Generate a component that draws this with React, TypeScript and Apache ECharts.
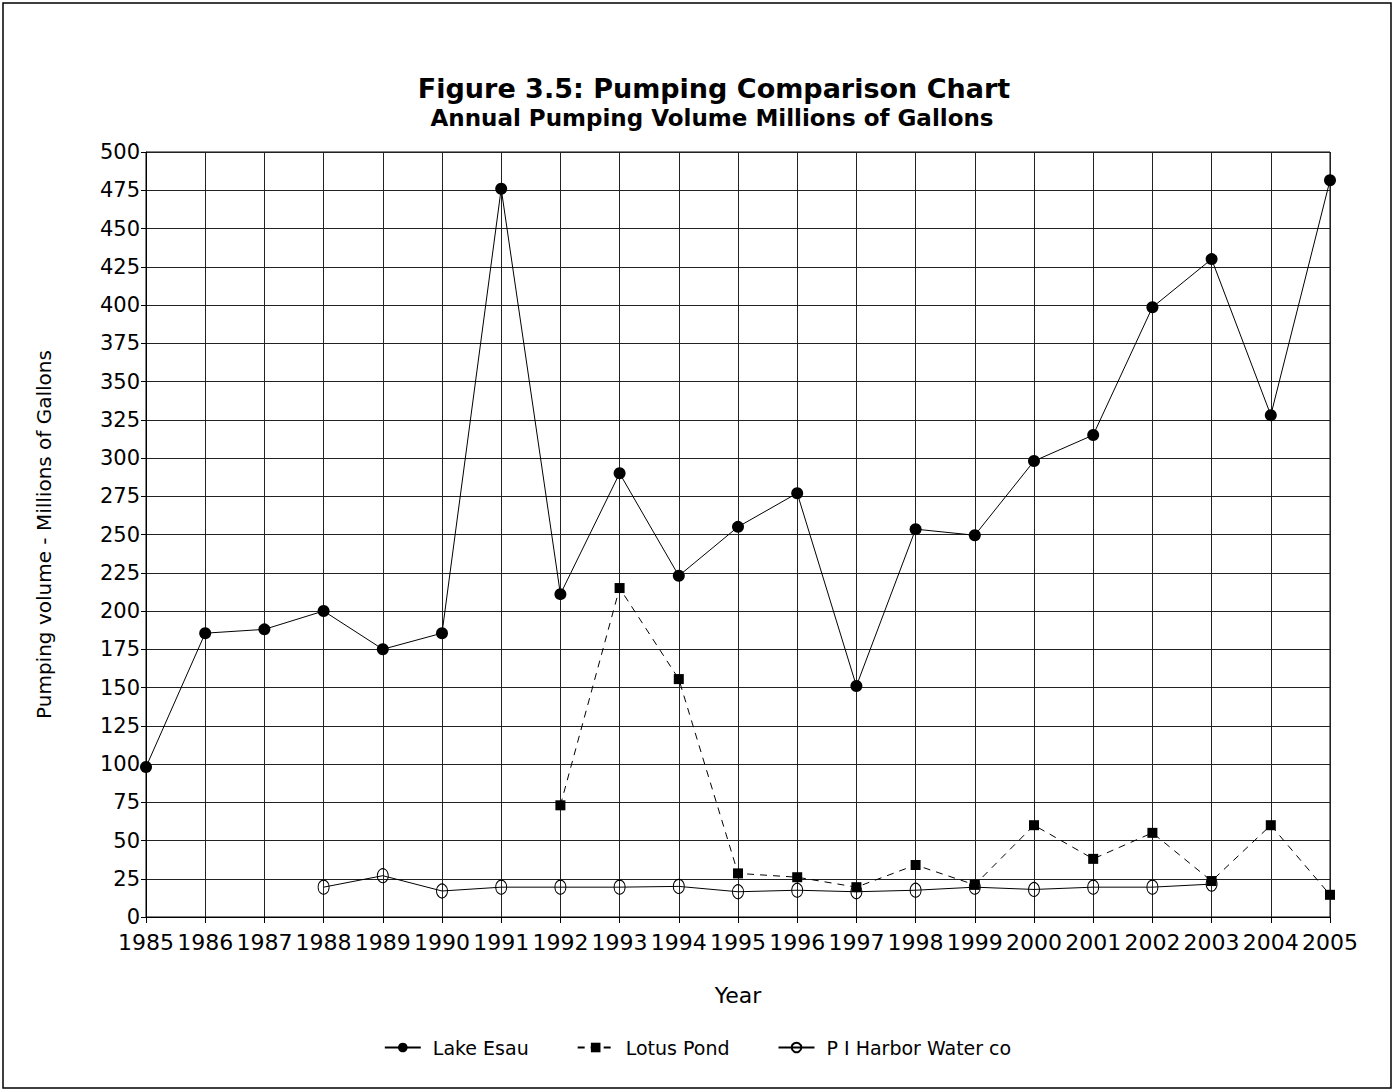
import React, { useEffect, useRef } from "react";
import * as echarts from "echarts";

const years = ["1985","1986","1987","1988","1989","1990","1991","1992","1993","1994","1995","1996","1997","1998","1999","2000","2001","2002","2003","2004","2005"];
const lakeEsau = [98, 185.5, 188, 200, 175, 185.5, 476, 211, 290, 223, 255, 277, 151, 253.5, 249.5, 298, 315, 398.5, 430, 328, 481.5];
const lotusPond = [null, null, null, null, null, null, null, 73, 215, 155.5, 28.5, 26, 19.5, 34, 21, 60, 38, 55, 23.5, 60, 14.5];
const piHarbor = [null, null, null, 19.5, 27, 17, 19.5, 19.5, 19.5, 20, 16.5, 17.5, 16.5, 17.5, 19.5, 18, 19.5, 19.5, 21.5, null, null];
const seriesNames = ["Lake Esau", "Lotus Pond", "P I Harbor Water co"];

const FONT = "DejaVu Sans";

export default function App() {
  const ref = useRef<HTMLDivElement>(null);
  useEffect(() => {
    document.body.style.margin = "0";
    const chart = echarts.init(ref.current!, null, { renderer: "svg" });
    chart.setOption({
      animation: false,
      backgroundColor: "#fff",
      textStyle: { fontFamily: FONT, color: "#000" },
      graphic: [
        { type: "rect", shape: { x: 3, y: 3, width: 1388, height: 1085 }, style: { fill: "none", stroke: "#000", lineWidth: 1.5 }, silent: true },
        { type: "text", x: 714, y: 88, style: { text: "Figure 3.5: Pumping Comparison Chart", font: `bold 27px '${FONT}'`, fill: "#000", textAlign: "center", textVerticalAlign: "middle" } },
        { type: "text", x: 712, y: 118, style: { text: "Annual Pumping Volume Millions of Gallons", font: `bold 23px '${FONT}'`, fill: "#000", textAlign: "center", textVerticalAlign: "middle" } },
      ],
      grid: { left: 146, right: 65, top: 152, bottom: 175, show: true, borderColor: "#000", borderWidth: 1 },
      legend: {
        bottom: 30,
        left: "center",
        itemWidth: 36,
        itemHeight: 12,
        itemGap: 48,
        textStyle: { fontFamily: FONT, fontSize: 19, color: "#000", padding: [0, 0, 0, 7] },
        data: seriesNames,
      },
      xAxis: {
        type: "category",
        data: years,
        boundaryGap: false,
        name: "Year",
        nameLocation: "middle",
        nameGap: 67,
        nameTextStyle: { fontFamily: FONT, fontSize: 22, color: "#000" },
        axisLine: { lineStyle: { color: "#000", width: 1 } },
        axisTick: { show: true, length: 6, lineStyle: { color: "#000" } },
        axisLabel: { fontFamily: FONT, fontSize: 22, color: "#000", margin: 14, interval: 0 },
        splitLine: { show: true, lineStyle: { color: "#222", width: 1 } },
      },
      yAxis: {
        type: "value",
        min: 0,
        max: 500,
        interval: 25,
        name: "Pumping volume - Millions of Gallons",
        nameLocation: "middle",
        nameGap: 92,
        nameTextStyle: { fontFamily: FONT, fontSize: 20, color: "#000" },
        axisLine: { show: true, lineStyle: { color: "#000", width: 1 } },
        axisTick: { show: true, length: 5, lineStyle: { color: "#000" } },
        axisLabel: { fontFamily: FONT, fontSize: 21, color: "#000", margin: 6 },
        splitLine: { show: true, lineStyle: { color: "#222", width: 1 } },
      },
      series: [
        {
          name: seriesNames[0],
          type: "line",
          data: lakeEsau,
          symbol: "circle",
          symbolSize: 12,
          itemStyle: { color: "#000" },
          lineStyle: { color: "#000", width: 1 },
        },
        {
          name: seriesNames[1],
          type: "line",
          data: lotusPond,
          symbol: "rect",
          symbolSize: 10,
          itemStyle: { color: "#000" },
          lineStyle: { color: "#000", width: 1, type: [7, 6] },
        },
        {
          name: seriesNames[2],
          type: "line",
          data: piHarbor,
          symbol: "circle",
          symbolSize: [11, 14],
          showAllSymbol: true,
          itemStyle: { color: "rgba(255,255,255,0)", borderColor: "#000", borderWidth: 1 },
          lineStyle: { color: "#000", width: 1 },
        },
      ],
    });
    return () => chart.dispose();
  }, []);
  return <div ref={ref} style={{ width: 1395, height: 1092 }} />;
}
